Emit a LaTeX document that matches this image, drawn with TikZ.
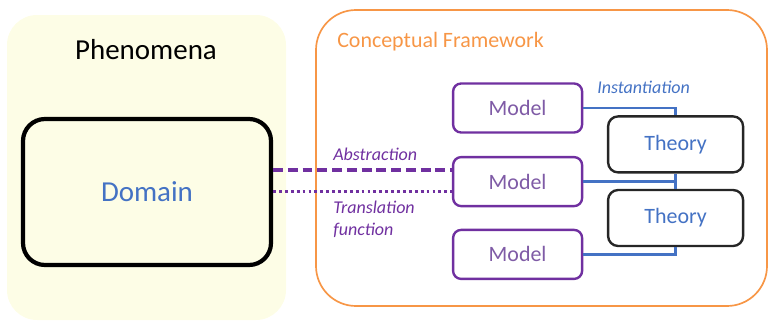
\documentclass[tikz,border=0pt]{standalone}
\usepackage{fontspec}
\setmainfont{Carlito}
\usepackage{tikz}
\usetikzlibrary{positioning, calc}
\definecolor{phenbg}{HTML}{FDFDE6}
\definecolor{cforange}{HTML}{F79646}
\definecolor{linkblue}{HTML}{4472C4}
\definecolor{modpurple}{HTML}{7030A0}
\definecolor{modtext}{HTML}{7F5BA6}
\tikzstyle{model} = [rectangle, rounded corners=0.2cm, minimum width=3.225cm, minimum height=1.225cm, draw=modpurple, line width=1.7pt, fill=white, text=modtext, font=\fontsize{15.6}{18}\selectfont]
\tikzstyle{theory} = [rectangle, rounded corners=0.25cm, minimum width=3.375cm, minimum height=1.4cm, draw=black!85, line width=1.7pt, fill=white, text=linkblue, font=\fontsize{15.6}{18}\selectfont]
\tikzstyle{link} = [linkblue, line width=2pt]
\tikzstyle{lbl} = [font=\itshape\fontsize{12.8}{15.4}\selectfont, inner sep=0pt]

\begin{document}
\begin{tikzpicture}
  \useasboundingbox (0,0) rectangle (19.2,-8.025);

  % Phenomena
  \draw[fill=phenbg, draw=none, rounded corners=0.75cm] (0.175,-0.375) rectangle (7.15,-8.0);
  \node[font=\fontsize{20.6}{24}\selectfont] (phen) at (3.65,-1.25) {Phenomena};
  \node[rectangle, rounded corners=0.55cm, minimum width=6.2cm, minimum height=3.65cm, draw=black, line width=3pt, text=linkblue, font=\fontsize{20.6}{24}\selectfont] (dom) at (3.675,-4.8) {Domain};

  % Conceptual framework
  \draw[cforange, line width=1.2pt, rounded corners=1cm] (7.9,-0.25) rectangle (19.175,-7.65);
  \node[anchor=west, inner sep=0pt, text=cforange, font=\fontsize{15.6}{18}\selectfont] (cf) at (8.425,-1.05) {Conceptual Framework};

  % Models
  \node[model] (m1) at (12.94,-2.7) {Model};
  \node[model] (m2) at (12.94,-4.54) {Model};
  \node[model] (m3) at (12.94,-6.36) {Model};

  % Theories
  \node[theory] (t1) at (16.89,-3.61) {Theory};
  \node[theory] (t2) at (16.89,-5.45) {Theory};

  % Instantiation links
  \draw[link] (m1.east) -| (t1.north);
  \draw[link] (t1.south) -- (t2.north);
  \draw[link] (m2.east) -- (m2.east -| t1.south);
  \draw[link] (m3.east) -| (t2.south);
  \node[lbl, anchor=west, text=linkblue] (inst) at (14.925,-2.175) {Instantiation};

  % Domain <-> model
  \draw[modpurple, line width=2.3pt, dash pattern=on 7pt off 3.5pt] ([yshift=0.29cm]m2.west -| dom.east) -- ([yshift=0.29cm]m2.west);
  \draw[modpurple, line width=2.3pt, dash pattern=on 2pt off 2.2pt] ([yshift=-0.24cm]m2.west -| dom.east) -- ([yshift=-0.24cm]m2.west);
  \node[lbl, anchor=west, text=modpurple] (abs) at (8.325,-3.85) {Abstraction};
  \node[lbl, anchor=west, text=modpurple, align=left] (trans) at (8.325,-5.49) {Translation\\function};
\end{tikzpicture}
\end{document}
